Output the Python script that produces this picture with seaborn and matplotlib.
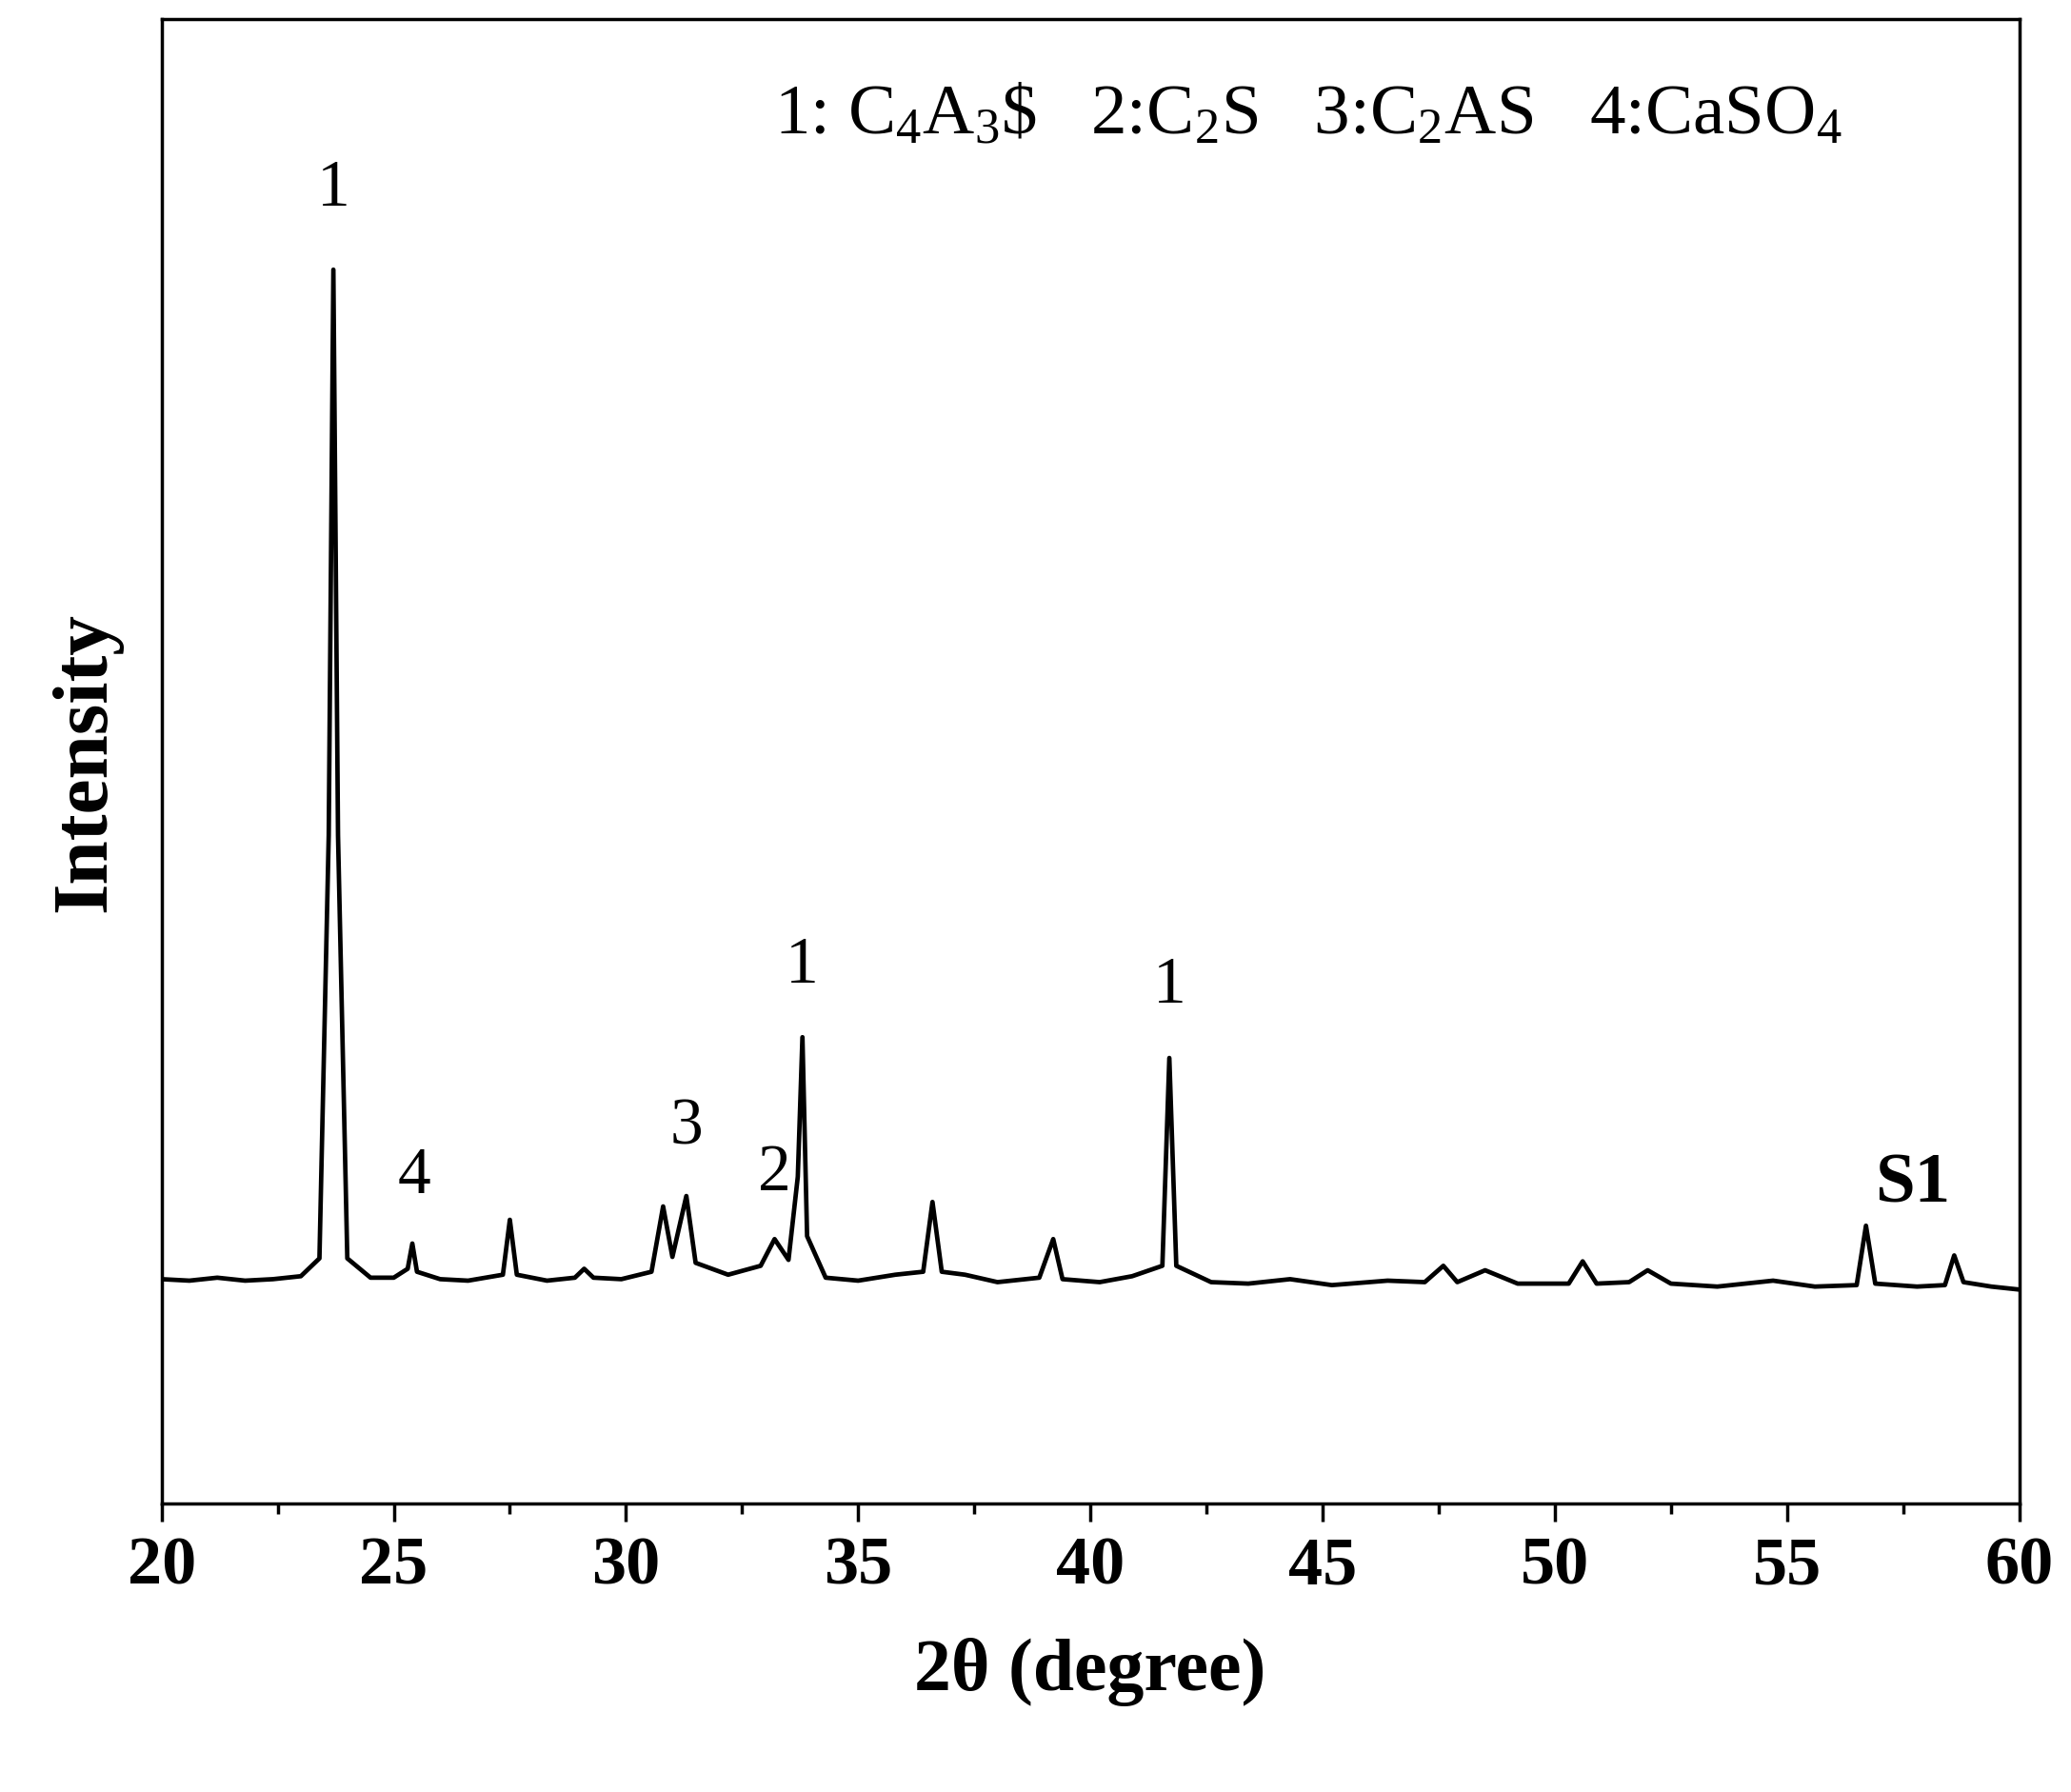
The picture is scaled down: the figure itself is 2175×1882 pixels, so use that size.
import matplotlib.pyplot as plt
import pandas as pd
import seaborn as sns
from matplotlib import ticker

# Pattern (2θ, intensity in arbitrary units)
two_theta = [
    20.0, 20.6, 21.2, 21.8, 22.4, 23.0, 23.4, 23.6, 23.7, 23.8, 24.0, 24.5,
    25.0, 25.3, 25.4, 25.5, 26.0, 26.6, 27.35, 27.5, 27.65, 28.3, 28.9, 29.1,
    29.3, 29.9, 30.55, 30.8, 31.0, 31.3, 31.5, 32.2, 32.9, 33.2, 33.5, 33.7,
    33.8, 33.9, 34.3, 35.0, 35.8, 36.4, 36.6, 36.8, 37.3, 38.0, 38.9, 39.2,
    39.4, 40.2, 40.9, 41.55, 41.7, 41.85, 42.6, 43.4, 44.3, 45.2, 46.4, 47.2,
    47.6, 47.9, 48.5, 49.2, 50.3, 50.6, 50.9, 51.6, 52.0, 52.5, 53.5, 54.7,
    55.6, 56.5, 56.7, 56.9, 57.8, 58.4, 58.6, 58.8, 59.4, 60.0,
]
intensity = [
    15.1, 15.0, 15.2, 15.0, 15.1, 15.3, 16.5, 45.0, 83.1, 45.0, 16.5, 15.2,
    15.2, 15.8, 17.5, 15.6, 15.1, 15.0, 15.4, 19.1, 15.4, 15.0, 15.2, 15.8,
    15.2, 15.1, 15.6, 20.0, 16.6, 20.7, 16.2, 15.4, 16.0, 17.8, 16.4, 22.0,
    31.4, 18.0, 15.2, 15.0, 15.4, 15.6, 20.3, 15.6, 15.4, 14.9, 15.2, 17.8,
    15.1, 14.9, 15.3, 16.0, 30.0, 16.0, 14.9, 14.8, 15.1, 14.7, 15.0, 14.9,
    16.0, 14.9, 15.7, 14.8, 14.8, 16.3, 14.8, 14.9, 15.7, 14.8, 14.6, 15.0,
    14.6, 14.7, 18.7, 14.8, 14.6, 14.7, 16.7, 14.9, 14.6, 14.4,
]

peak_labels = ["1", "4", "3", "2", "1", "1"]
peak_x = [23.7, 25.45, 31.3, 33.2, 33.8, 41.7]
peak_y = [86.5, 20.0, 23.3, 20.2, 34.2, 32.8]

legend_text = "1: C$_4$A$_3$\\$   2:C$_2$S   3:C$_2$AS   4:CaSO$_4$"

df = pd.DataFrame({"x": two_theta, "y": intensity})

sns.set_style("white")
plt.rcParams["font.family"] = ["Liberation Serif", "DejaVu Serif"]
plt.rcParams["mathtext.fontset"] = "custom"
plt.rcParams["mathtext.rm"] = "Liberation Serif"
plt.rcParams["mathtext.it"] = "Liberation Serif"
plt.rcParams["text.color"] = "black"
plt.rcParams["axes.labelcolor"] = "black"
plt.rcParams["xtick.color"] = "black"

fig = plt.figure(figsize=(21.75, 18.83), dpi=100)
ax = fig.add_axes([0.078, 0.161, 0.897, 0.828])

sns.lineplot(data=df, x="x", y="y", color="black", linewidth=3.4, ax=ax)

ax.set_xlim(20, 60)
ax.set_ylim(0, 100)
ax.xaxis.set_major_locator(ticker.MultipleLocator(5))
ax.xaxis.set_minor_locator(ticker.MultipleLocator(2.5))
ax.set_yticks([])
ax.tick_params(axis="x", which="major", direction="out", length=14, width=2.5,
               labelsize=52, pad=10, bottom=True)
ax.tick_params(axis="x", which="minor", direction="out", length=8, width=2.5,
               bottom=True)
for lab in ax.get_xticklabels():
    lab.set_fontweight("bold")
for s in ax.spines.values():
    s.set_linewidth(2.5)
    s.set_color("black")

ax.set_xlabel("2θ (degree)", fontsize=56, fontweight="bold", labelpad=30)
ax.set_ylabel("Intensity", fontsize=60, fontweight="bold", labelpad=30)

for lab, x, y in zip(peak_labels, peak_x, peak_y):
    ax.text(x, y, lab, fontsize=50, ha="center", va="bottom")
ax.text(57.7, 19.3, "S1", fontsize=54, fontweight="bold", ha="center", va="bottom")
ax.text(0.33, 0.935, legend_text, transform=ax.transAxes, fontsize=54,
        ha="left", va="center")

fig.savefig("out.png", dpi=100)
